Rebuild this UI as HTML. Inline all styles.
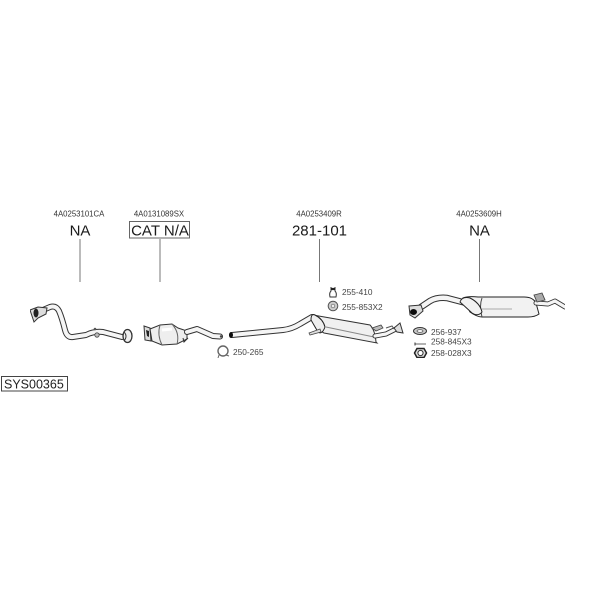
<!DOCTYPE html>
<html><head><meta charset="utf-8"><style>
html,body{margin:0;padding:0;background:#fff}
svg{display:block}
text{font-family:"Liberation Sans",sans-serif;fill:#222}
.s{font-size:7.800px;fill:#333}.m{font-size:8.300px;fill:#444}.b{font-size:15px;fill:#1a1a1a}
.po{fill:none;stroke:#333;stroke-linecap:round;stroke-linejoin:round}
.pi{fill:none;stroke:#f5f5f5;stroke-linecap:round;stroke-linejoin:round}
.d{filter:url(#bl)}
</style></head><body>
<svg width="600" height="600" viewBox="0 0 600 600" xmlns="http://www.w3.org/2000/svg">
<defs><filter id="bl" x="0" y="0" width="100%" height="100%"><feGaussianBlur stdDeviation=".35"/></filter></defs>
<rect width="600" height="600" fill="#fff"/>
<text class="s" x="79" y="216.500" text-anchor="middle">4A0253101CA</text>
<text class="s" x="159" y="216.500" text-anchor="middle">4A0131089SX</text>
<text class="s" x="319" y="216.500" text-anchor="middle">4A0253409R</text>
<text class="s" x="479" y="216.500" text-anchor="middle">4A0253609H</text>
<text class="b" x="80" y="235.500" text-anchor="middle">NA</text>
<rect x="129.500" y="221.500" width="60" height="16.500" fill="#fff" stroke="#666"/>
<text class="b" x="160" y="235.500" text-anchor="middle">CAT N/A</text>
<text class="b" x="319.500" y="235.500" text-anchor="middle">281-101</text>
<text class="b" x="479.500" y="235.500" text-anchor="middle">NA</text>
<g stroke="#777" stroke-width="1"><path d="M80 239V282M160 239V282M319.500 239V282M479.500 239V282"/></g>

<g class="d">
<!-- front pipe -->
<path class="po" stroke-width="6" d="M43 310L50 307Q56 305 59 311Q62 318 65 330Q67 338 73 337L86 335Q94 331 103 332L122 337"/>
<path class="pi" stroke-width="4" d="M43 310L50 307Q56 305 59 311Q62 318 65 330Q67 338 73 337L86 335Q94 331 103 332L122 337"/>
<path d="M30 310L38 307L47 308L46 314L38 318L34 322Z" fill="#ddd" stroke="#333"/>
<ellipse cx="36" cy="313" rx="2.500" ry="4.500" fill="#222"/>
<circle cx="97" cy="335" r="2.200" fill="#bbb" stroke="#444" stroke-width=".8"/>
<circle cx="95" cy="329" r="1.300" fill="#555"/>
<ellipse cx="127.500" cy="336" rx="4.500" ry="6.500" fill="#f0f0f0" stroke="#333" stroke-width="1.300"/>
<path d="M124 332Q128 336 124 341" fill="none" stroke="#333"/>

<!-- catalyst -->
<path d="M144 326L150 328L151 341L145 340Z" fill="#ddd" stroke="#333"/>
<path d="M146 330L149 331L149 337L147 336Z" fill="#222"/>
<path d="M150 329L160 325L172 324L178 328L187 331L187 339L177 344L162 345L152 341Z" fill="#eee" stroke="#333"/>
<path d="M160 325Q157 335 162 345M172 324Q180 333 177 344" fill="none" stroke="#666"/>
<path d="M162 330L172 329" stroke="#fff" stroke-width="3"/>
<path d="M183 338L184 342L188 338" fill="none" stroke="#333"/>
<path class="po" stroke-width="6" d="M187 332L197 329L213 336L220 336.500"/>
<path class="pi" stroke-width="4" d="M187 332L197 329L213 336L220 336.500"/>
<circle cx="221" cy="336.500" r="1.200" fill="#444"/>

<!-- clamp 250-265 -->
<circle cx="223" cy="351" r="5" fill="none" stroke="#666" stroke-width="1.400"/>
<path d="M219 355L218 358M226 355L229 356" stroke="#666"/>

<!-- middle muffler -->
<path class="po" stroke-width="6" d="M232 335L283 330Q292 329 300 324L312 317"/>
<path class="pi" stroke-width="4" d="M232 335L283 330Q292 329 300 324L312 317"/>
<ellipse cx="231" cy="335" rx="2" ry="3" fill="#111"/>
<path d="M313 315L370 325Q375 330 376 342L377 343L324 333Q318 330 315 326Z" fill="#f0f0f0" stroke="#333"/>
<path d="M326 327L374 337" stroke="#888"/>
<path d="M311 320Q311 313 315 315Q323 319 325 327Q322 335 318 332Z" fill="#eee" stroke="#222"/>
<path d="M309 333L320 329L321 332L310 335Z" fill="#ddd" stroke="#444" stroke-width=".8"/>
<path class="po" stroke-width="5" d="M375 336L386 334L396 329"/>
<path class="pi" stroke-width="3.200" d="M375 336L386 334L396 329"/>
<path d="M372 328L381 325L383 328L376 331Z" fill="#bbb" stroke="#444" stroke-width=".8"/>
<path d="M386 328L392 326L394 329" fill="none" stroke="#555"/>
<path d="M394 328L400 323L403 333L397 332Z" fill="#ddd" stroke="#333"/>
<path d="M331 287V291Q329 293 330 297H336Q337 293 335 291V287" fill="#fff" stroke="#333"/>
<path d="M331 289H335" stroke="#222" stroke-width="2.200"/>
<circle cx="333" cy="306" r="4.800" fill="#ccc" stroke="#555"/>
<circle cx="333" cy="306" r="1.800" fill="#eee" stroke="#666" stroke-width=".7"/>

<!-- rear muffler -->
<path class="po" stroke-width="6.500" d="M421 307L430 301Q437 297 447 298L470 304"/>
<path class="pi" stroke-width="4.500" d="M421 307L430 301Q437 297 447 298L470 304"/>
<path d="M409 306L421 305L423 311L415 318L410 315Z" fill="#ddd" stroke="#333"/>
<ellipse cx="413.500" cy="312" rx="3.500" ry="3" fill="#111"/>
<path d="M463 298Q468 296 478 297H524Q533 297 536 303L539 314Q535 317 528 317H482Q477 317 470 312Z" fill="#f2f2f2" stroke="#222"/>
<path d="M482 298Q479 306 482 317" fill="none" stroke="#444"/>
<path d="M482 309H512" stroke="#aaa"/>
<path d="M460 302Q462 296 470 298Q480 303 482 312Q478 317 472 313Z" fill="#f2f2f2" stroke="#222"/>
<path class="po" stroke-width="5" d="M536 303L548 304L555 301L565 307"/>
<path class="pi" stroke-width="3.200" d="M536 303L548 304L555 301L565 307"/>
<path d="M534 295L542 293L545 300L537 302Z" fill="#aaa" stroke="#444" stroke-width=".9"/>

<!-- small parts -->
<ellipse cx="420" cy="331" rx="6.500" ry="3.500" fill="#ccc" stroke="#333"/>
<ellipse cx="420" cy="331" rx="3" ry="1.300" fill="#fff" stroke="#444" stroke-width=".7"/>
<path d="M415 344H426" stroke="#666"/>
<path d="M415 342.500V345.500" stroke="#333"/>
<path d="M417 348.500H424L426.500 353L424 357.500H417L414.500 353Z" fill="#ddd" stroke="#222" stroke-width="1.500"/>
<circle cx="420.500" cy="353" r="2.600" fill="#fff" stroke="#333"/>
</g>
<text class="m" x="233" y="355">250-265</text>
<text class="m" x="342" y="295">255-410</text>
<text class="m" x="342" y="310">255-853X2</text>
<text class="m" x="431" y="335">256-937</text>
<text class="m" x="431" y="344.500">258-845X3</text>
<text class="m" x="431" y="356">258-028X3</text>

<!-- label -->
<rect x="1.500" y="376.500" width="66" height="14.500" fill="#fff" stroke="#444"/>
<text x="4" y="388.500" font-size="12.500" style="fill:#222">SYS00365</text>
</svg>
</body></html>
